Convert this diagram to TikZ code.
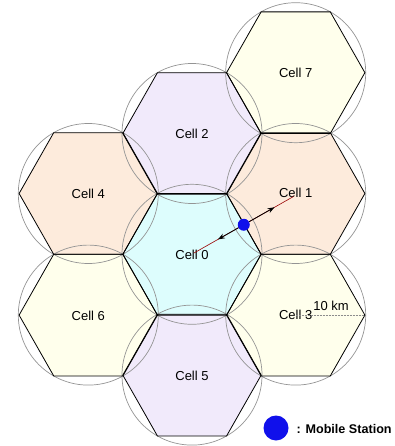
\documentclass[tikz,border=0pt]{standalone}
\usepackage{fontspec}
\setmainfont{Liberation Sans}
\usetikzlibrary{calc,arrows.meta}
\definecolor{cyanc}{HTML}{DDFDFD}
\definecolor{peachc}{HTML}{FDEBDC}
\definecolor{lavc}{HTML}{F1EAFB}
\definecolor{yelc}{HTML}{FFFFEC}
\definecolor{msblue}{RGB}{16,16,235}
\tikzset{
  hexfill/.style={fill=#1, draw=none},
  hexline/.style={draw=black, line width=0.8pt, line join=miter},
  covercircle/.style={draw=black!42, line width=0.7pt},
  celllabel/.style={font=\fontsize{13}{15}\selectfont, inner sep=0pt},
  linkline/.style={draw=red!60!black, line width=0.6pt},
  msarrow/.style={draw=black, line width=0.8pt, -{Stealth[length=7pt,width=5pt]}},
  msdot/.style={circle, fill=msblue, inner sep=0pt, minimum size=#1},
  radiusline/.style={draw=black!45, dashed, dash pattern=on 2pt off 1pt, line width=0.5pt}
}
\begin{document}
\begin{tikzpicture}[x=1pt,y=-1pt]
\useasboundingbox (0,0) rectangle (395,446);
\def\R{69.2}
\def\H{60.8}
\def\hexpath#1#2{(#1+\R,#2) -- (#1+0.5*\R,#2+\H) -- (#1-0.5*\R,#2+\H) -- (#1-\R,#2) -- (#1-0.5*\R,#2-\H) -- (#1+0.5*\R,#2-\H) -- cycle}
% fills
\foreach \x/\y/\c in {192/254.3/cyanc, 295.7/193.5/peachc, 192/133.5/lavc, 295.7/315.1/yelc, 88.3/193.5/peachc, 192/375.1/lavc, 88.3/315.1/yelc, 295.7/72.7/yelc}
  \path[hexfill=\c] \hexpath{\x}{\y};
% covering circles
\foreach \x/\y in {192/254.3, 295.7/193.5, 192/133.5, 295.7/315.1, 88.3/193.5, 192/375.1, 88.3/315.1, 295.7/72.7}
  \draw[covercircle] (\x,\y) circle (70);
% hex outlines
\foreach \x/\y in {192/254.3, 295.7/193.5, 192/133.5, 295.7/315.1, 88.3/193.5, 192/375.1, 88.3/315.1, 295.7/72.7}
  \draw[hexline] \hexpath{\x}{\y};
% cell labels
\node[celllabel] (c0) at (192,255) {Cell 0};
\node[celllabel] (c1) at (295.7,192.5) {Cell 1};
\node[celllabel] (c2) at (192,133.5) {Cell 2};
\node[celllabel] (c3) at (295.7,315.1) {Cell 3};
\node[celllabel] (c4) at (88.3,193.5) {Cell 4};
\node[celllabel] (c5) at (192,376) {Cell 5};
\node[celllabel] (c6) at (88.3,316) {Cell 6};
\node[celllabel] (c7) at (295.7,73) {Cell 7};
% centres for link
\coordinate (p0) at (194,253);
\coordinate (p1) at (293.5,196.5);
\draw[linkline] (p0) -- (p1);
\node[msdot=12pt] (ms) at ($(p0)!0.5!(p1)$) {};
\coordinate (a0) at ($(p0)!0.24!(p1)$);
\coordinate (a1) at ($(p0)!0.81!(p1)$);
\draw[msarrow] (ms) -- (a0);
\draw[msarrow] (ms) -- (a1);
% radius
\coordinate (r0) at (295.7,315.1);
\coordinate (r1) at (364.9,315.1);
\draw[radiusline] (r0) -- (r1);
\node[font=\fontsize{13}{15}\selectfont, inner sep=0pt] (km) at (331,305.5) {10 km};
% legend
\node[msdot=25pt] (legdot) at (276,428) {};
\node[anchor=west, font=\bfseries\fontsize{12.6}{15}\selectfont, inner sep=0pt] (legtext) at (296.5,428.5) {: Mobile Station};
\end{tikzpicture}
\end{document}
